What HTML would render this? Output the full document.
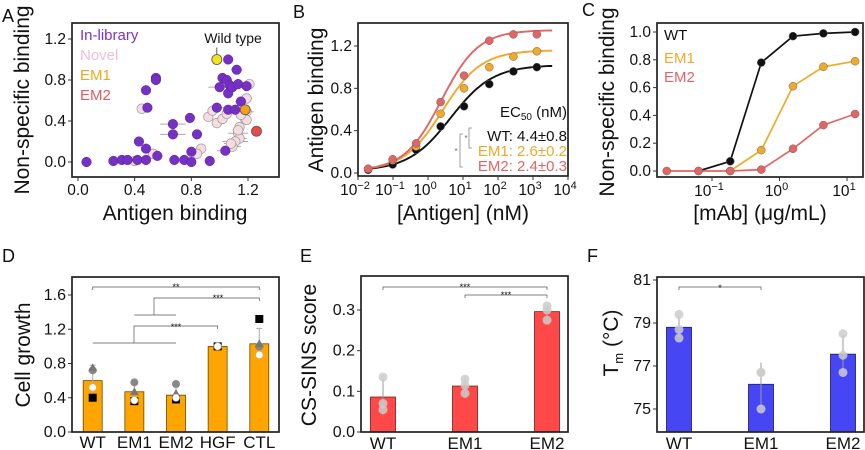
<!DOCTYPE html>
<html><head><meta charset="utf-8">
<style>
html,body{margin:0;padding:0;background:#fff;}
svg{display:block;font-family:"Liberation Sans","DejaVu Sans",sans-serif;}
</style></head>
<body>
<svg id="fig" width="865" height="450" viewBox="0 0 865 450"></svg>
<script>
// ---------- Panel A data ----------
const aInLibX=[0.06,0.25,0.31,0.35,0.42,0.43,0.48,0.48,0.49,0.48,0.55,0.55,0.56,0.67,0.67,0.68,0.75,0.79,0.80,0.80,0.84,0.93,0.98,1.0,1.02,1.06,1.06,1.04,1.05,1.07,1.06,1.09,1.12,1.13,1.15,1.19,1.11];
const aInLibY=[0.0,0.01,0.02,0.02,0.02,0.20,0.13,0.70,0.53,0.02,0.82,0.80,0.06,0.37,0.27,0.02,0.02,0.43,0.10,0.0,0.27,0.01,0.53,0.73,0.82,1.0,0.51,0.11,0.80,0.75,0.67,0.73,0.90,0.76,0.59,0.74,0.51];
const aInLibXErr=[0,0.02,0,0,0.02,0.03,0,0,0,0,0,0,0,0.09,0.09,0,0,0.03,0,0,0,0,0.05,0.08,0,0,0,0.06,0.04,0,0.03,0,0.04,0,0.04,0.03,0];
const aNovelX=[0.45,0.40,0.53,0.87,0.84,0.92,0.95,0.98,1.02,1.05,1.19,1.21,1.19,1.18,1.14,1.13,1.14,1.11,1.09,1.08,1.13,1.19,1.15];
const aNovelY=[0.52,0.01,0.08,0.13,0.08,0.44,0.50,0.38,0.42,0.47,0.62,0.76,0.49,0.42,0.34,0.28,0.23,0.20,0.15,0.18,0.31,0.41,0.46];
const aNovelXErr=[0.02,0.02,0.02,0,0,0.03,0.03,0,0,0.03,0.04,0.02,0.05,0.04,0.03,0.07,0.05,0.09,0.06,0.05,0.04,0.03,0.04];
const aSpecialNames=["Wild type","EM1","EM2"];
const aSpecialX=[0.98,1.18,1.26];
const aSpecialY=[1.0,0.51,0.3];
const aXTicks=[0.0,0.4,0.8,1.2];
const aYTicks=[0.0,0.4,0.8,1.2];
// ---------- Panel B data ----------
const bConcLog=[-1.71,-1.01,-0.34,0.36,1.03,1.75,2.44,3.11];
const bWT=[0.03,0.08,0.22,0.44,0.63,0.84,0.96,1.0];
const bEM1=[0.04,0.12,0.25,0.56,0.80,1.0,1.10,1.15];
const bEM2=[0.04,0.13,0.28,0.67,0.92,1.25,1.31,1.31];
const bFitTop=[1.02,1.16,1.35];
const bFitEC50=[4.4,2.6,2.4];
const bFitHill=[0.72,0.78,0.82];
const bXTickExp=[-2,-1,0,1,2,3,4];
const bYTicks=[0.0,0.4,0.8,1.2];
const bLegendText=["WT: 4.4±0.8","EM1: 2.6±0.2","EM2: 2.4±0.3"];
// ---------- Panel C data ----------
const cConcLog=[-1.67,-1.2,-0.73,-0.27,0.2,0.65,1.12];
const cWT=[null,0.0,0.07,0.78,0.97,0.99,1.0];
const cEM1=[null,null,0.0,0.15,0.61,0.75,0.79];
const cEM2=[0.0,0.0,0.0,0.01,0.16,0.33,0.41];
const cXTickExp=[-1,0,1];
const cYTicks=[0.0,0.2,0.4,0.6,0.8,1.0];
// ---------- Panel D data ----------
const dCats=["WT","EM1","EM2","HGF","CTL"];
const dVals=[0.60,0.47,0.43,1.0,1.03];
const dErr=[0.18,0.12,0.10,0.01,0.18];
const dTri=[0.75,0.47,0.45,1.0,1.03];
const dCirc=[0.72,0.58,0.56,1.0,1.0];
const dWhite=[0.52,0.37,0.40,1.0,0.9];
const dSquare=[0.40,0.36,0.38,1.0,1.32];
const dYTicks=[0.0,0.4,0.8,1.2,1.6];
// ---------- Panel E data ----------
const eCats=["WT","EM1","EM2"];
const eVals=[0.086,0.113,0.296];
const eErr=[0.045,0.02,0.015];
const ePts=[[0.135,0.07,0.055],[0.13,0.115,0.095],[0.31,0.275,0.30]];
const eYTicks=[0.0,0.1,0.2,0.3];
// ---------- Panel F data ----------
const fCats=["WT","EM1","EM2"];
const fVals=[78.8,76.15,77.55];
const fErr=[0.5,1.0,0.9];
const fPts=[[79.4,78.7,78.3],[76.7,76.7,75.0],[78.5,77.5,76.7]];
const fYTicks=[75,77,79,81];

const NS="http://www.w3.org/2000/svg";
const svg=document.getElementById('fig');
const TICK=15.5, TITLE=21;
function mk(tag,attrs,name,parent){
  const el=document.createElementNS(NS,tag);
  for(const k in attrs) el.setAttribute(k,attrs[k]);
  
  
  (parent||svg).appendChild(el);
  return el;
}
function txt(x,y,s,size,name,opts){
  opts=opts||{};
  const t=mk('text',{x:x,y:y,'font-size':size,fill:opts.fill||'#111','text-anchor':opts.anchor||'middle'},name,opts.parent);
  if(opts.rot) t.setAttribute('transform','rotate(-90 '+x+' '+y+')');
  t.textContent=s;
  return t;
}
function frame(x0,y0,x1,y1,name){
  mk('rect',{x:x0,y:y0,width:x1-x0,height:y1-y0,fill:'none',stroke:'#222','stroke-width':1.7},name);
}
function linear(d0,d1,r0,r1){return v=>r0+(v-d0)*(r1-r0)/(d1-d0);}

// ================= Panel A =================
(function(){
  const X=linear(0,1.2,78,248), Y=linear(0,1.2,162,39);
  txt(2,22,'A',18,'panel-label-a',{anchor:'start'});
  frame(72,23,279,177,'plot-frame-a');
  aXTicks.forEach(v=>{mk('line',{x1:X(v),x2:X(v),y1:177,y2:181,stroke:'#333'},'x-tick-a');txt(X(v),195,v.toFixed(1),TICK,'x-tick-label-a');});
  aYTicks.forEach(v=>{mk('line',{x1:68,x2:72,y1:Y(v),y2:Y(v),stroke:'#333'},'y-tick-a');txt(66,Y(v)+5,v.toFixed(1),TICK,'y-tick-label-a',{anchor:'end'});});
  txt(175,220,'Antigen binding',TITLE,'x-axis-title-a');
  txt(29,100,'Non-specific binding',TITLE,'y-axis-title-a',{rot:true});
  function errs(xs,ys,es){xs.forEach((x,i)=>{if(es[i]>0)mk('line',{x1:X(x-es[i]),x2:X(x+es[i]),y1:Y(ys[i]),y2:Y(ys[i]),stroke:'#aaa','stroke-width':1},'error-bar-a');});}
  errs(aInLibX,aInLibY,aInLibXErr);errs(aNovelX,aNovelY,aNovelXErr);
  aNovelX.forEach((x,i)=>mk('circle',{cx:X(x),cy:Y(aNovelY[i]),r:4.8,fill:'#f6dbe1',stroke:'#999','stroke-width':0.7},'novel-point'));
  aInLibX.forEach((x,i)=>mk('circle',{cx:X(x),cy:Y(aInLibY[i]),r:4.8,fill:'#7530c4',stroke:'#5a1e9a','stroke-width':0.5},'in-library-point'));
  const sc=['#f2e31a','#f5a01a','#ea4a45'];
  aSpecialX.forEach((x,i)=>mk('circle',{cx:X(x),cy:Y(aSpecialY[i]),r:5,fill:sc[i],stroke:'#555','stroke-width':0.8},'special-point-'+aSpecialNames[i].toLowerCase().replace(' ','-')));
  mk('line',{x1:X(aSpecialX[0]),y1:Y(aSpecialY[0])-5,x2:X(aSpecialX[0]),y2:Y(aSpecialY[0])-12,stroke:'#333','stroke-width':0.8},'wild-type-pointer');
  txt(233,43,'Wild type',14,'wild-type-label');
  txt(80,40,'In-library',15,'legend-in-library',{anchor:'start',fill:'#7a35c8'});
  txt(80,60,'Novel',15,'legend-novel',{anchor:'start',fill:'#f2bcd8'});
  txt(80,80,'EM1',15,'legend-em1',{anchor:'start',fill:'#f2a817'});
  txt(80,100,'EM2',15,'legend-em2',{anchor:'start',fill:'#e55a5a'});
})();

// ================= Panel B =================
(function(){
  const X=linear(-2,4,358,568), Y=linear(0,1.2,173,46);
  txt(293,18,'B',18,'panel-label-b',{anchor:'start'});
  frame(358,23,568,176,'plot-frame-b');
  bXTickExp.forEach(e=>{
    mk('line',{x1:X(e),x2:X(e),y1:176,y2:180,stroke:'#333'},'x-tick-b');
    const t=txt(X(e)-3,195,'10',TICK,'x-tick-label-b');
    const s=mk('tspan',{dy:-6,'font-size':11},'x-tick-exponent-b',t);s.textContent=String(e).replace('-','−');
  });
  bYTicks.forEach(v=>{mk('line',{x1:354,x2:358,y1:Y(v),y2:Y(v),stroke:'#333'},'y-tick-b');txt(352,Y(v)+5,v.toFixed(1),TICK,'y-tick-label-b',{anchor:'end'});});
  txt(463,220,'[Antigen] (nM)',TITLE,'x-axis-title-b');
  txt(323,100,'Antigen binding',TITLE,'y-axis-title-b',{rot:true});
  const cols=['#111','#f0a92a','#e36464'], series=[bWT,bEM1,bEM2], names=['wt','em1','em2'];
  series.forEach((s,k)=>{
    let d='';
    for(let lx=-1.8;lx<=3.55;lx+=0.05){
      const c=Math.pow(10,lx);
      const v=0.02+(bFitTop[k]-0.02)/(1+Math.pow(bFitEC50[k]/c,bFitHill[k]));
      d+=(d?'L':'M')+X(lx).toFixed(1)+' '+Y(v).toFixed(1);
    }
    mk('path',{d:d,fill:'none',stroke:cols[k],'stroke-width':1.9},'fit-curve-'+names[k]);
  });
  series.forEach((s,k)=>s.forEach((v,i)=>mk('circle',{cx:X(bConcLog[i]),cy:Y(v),r:4,fill:cols[k],stroke:'#666','stroke-width':0.5},'point-'+names[k])));
  const t=txt(567,117,'EC',15,'ec50-legend-title',{anchor:'end'});
  const sub=mk('tspan',{dy:3,'font-size':10},'ec50-subscript',t);sub.textContent='50';
  const rest=mk('tspan',{dy:-3},'ec50-unit',t);rest.textContent=' (nM)';
  const ly=[141,156,171];
  bLegendText.forEach((s,k)=>txt(567,ly[k],s,15,'ec50-legend-'+names[k],{anchor:'end',fill:cols[k]}));
  mk('path',{d:'M472 128 H469 V148 H472',fill:'none',stroke:'#888','stroke-width':0.8},'sig-bracket-wt-em1');
  txt(466,141,'*',8,'sig-star-wt-em1',{fill:'#666'});
  mk('path',{d:'M463 134 H460 V167 H463',fill:'none',stroke:'#888','stroke-width':0.8},'sig-bracket-wt-em2');
  txt(456,154,'*',8,'sig-star-wt-em2',{fill:'#666'});
})();

// ================= Panel C =================
(function(){
  const X=linear(-1,1,712,847), Y=linear(0,1,171,32);
  txt(582,16,'C',18,'panel-label-c',{anchor:'start'});
  frame(657,23,863,177,'plot-frame-c');
  cXTickExp.forEach(e=>{
    mk('line',{x1:X(e),x2:X(e),y1:177,y2:181,stroke:'#333'},'x-tick-c');
    const t=txt(X(e)-3,196,'10',TICK,'x-tick-label-c');
    const s=mk('tspan',{dy:-6,'font-size':11},'x-tick-exponent-c',t);s.textContent=String(e).replace('-','−');
  });
  cYTicks.forEach(v=>{mk('line',{x1:653,x2:657,y1:Y(v),y2:Y(v),stroke:'#333'},'y-tick-c');txt(651,Y(v)+5,v.toFixed(1),TICK,'y-tick-label-c',{anchor:'end'});});
  txt(760,220,'[mAb] (μg/mL)',TITLE,'x-axis-title-c');
  txt(614,102,'Non-specific binding',TITLE,'y-axis-title-c',{rot:true});
  const cols=['#111','#f0a92a','#e36464'], series=[cWT,cEM1,cEM2], names=['wt','em1','em2'];
  series.forEach((s,k)=>{
    let d='';
    s.forEach((v,i)=>{if(v===null)return;d+=(d?'L':'M')+X(cConcLog[i]).toFixed(1)+' '+Y(v).toFixed(1);});
    mk('path',{d:d,fill:'none',stroke:cols[k],'stroke-width':1.7},'line-'+names[k]);
  });
  series.forEach((s,k)=>s.forEach((v,i)=>{if(v===null)return;mk('circle',{cx:X(cConcLog[i]),cy:Y(v),r:4,fill:cols[k],stroke:'#666','stroke-width':0.5},'point-'+names[k]);}));
  txt(664,40,'WT',15,'legend-wt-c',{anchor:'start',fill:'#111'});
  txt(664,63,'EM1',15,'legend-em1-c',{anchor:'start',fill:'#f0a92a'});
  txt(664,82,'EM2',15,'legend-em2-c',{anchor:'start',fill:'#e36464'});
})();

// ================= Panel D =================
(function(){
  const Y=linear(0,1.6,432,295), bw=19;
  const X=i=>92.7+i*41.65;
  txt(2,262,'D',18,'panel-label-d',{anchor:'start'});
  dYTicks.forEach(v=>{mk('line',{x1:68,x2:72,y1:Y(v),y2:Y(v),stroke:'#333'},'y-tick-d');txt(66,Y(v)+5,v.toFixed(1),16,'y-tick-label-d',{anchor:'end'});});
  txt(30,355,'Cell growth',TITLE,'y-axis-title-d',{rot:true});
  dVals.forEach((v,i)=>{
    mk('rect',{x:X(i)-bw/2,y:Y(v),width:bw,height:432-Y(v),fill:'#ffa500',stroke:'#6b4a00','stroke-width':0.8},'bar-'+dCats[i].toLowerCase());
    mk('line',{x1:X(i),x2:X(i),y1:Y(v-dErr[i]),y2:Y(v+dErr[i]),stroke:'#aaa'},'error-bar-d');
    mk('line',{x1:X(i)-3,x2:X(i)+3,y1:Y(v+dErr[i]),y2:Y(v+dErr[i]),stroke:'#aaa'},'error-cap-d');
    mk('circle',{cx:X(i),cy:Y(dCirc[i]),r:4,fill:'#888'},'replicate-circle');
    const ty=Y(dTri[i]);
    mk('polygon',{points:(X(i)-4.5)+','+(ty+3.5)+' '+(X(i)+4.5)+','+(ty+3.5)+' '+X(i)+','+(ty-4.5),fill:'#777'},'replicate-triangle');
    mk('rect',{x:X(i)-4,y:Y(dSquare[i])-4,width:8,height:8,fill:'#000'},'replicate-square');
    mk('circle',{cx:X(i),cy:Y(dWhite[i]),r:3.6,fill:'#fff',stroke:'#bbb','stroke-width':0.6},'replicate-white');
    txt(X(i),448,dCats[i],17,'x-tick-label-d');
  });
  frame(72,277,279,432,'plot-frame-d');
  const g='#555';
  mk('path',{d:'M'+X(0)+' 290 V287 H'+X(4)+' V290',fill:'none',stroke:g,'stroke-width':0.7},'sig-bracket-wt-ctl');
  txt((X(0)+X(4))/2,290,'**',9,'sig-stars-wt-ctl');
  mk('path',{d:'M154 315 V298 H'+X(4)+' V301',fill:'none',stroke:g,'stroke-width':0.7},'sig-bracket-em-ctl');
  txt(218,301,'***',9,'sig-stars-em-ctl');
  mk('line',{x1:X(1),x2:X(2),y1:315,y2:315,stroke:g,'stroke-width':0.8},'group-line-em');
  mk('path',{d:'M134 343 V326 H'+X(3)+' V329',fill:'none',stroke:g,'stroke-width':0.7},'sig-bracket-group-hgf');
  txt(176,330,'***',9,'sig-stars-group-hgf');
  mk('line',{x1:X(0),x2:X(2),y1:343,y2:343,stroke:g,'stroke-width':0.8},'group-line-all');
})();

// ================= Panel E =================
(function(){
  const Y=linear(0,0.3,432,310), bw=25;
  const X=i=>383+i*82;
  txt(300,262,'E',18,'panel-label-e',{anchor:'start'});
  eYTicks.forEach(v=>{mk('line',{x1:357,x2:361,y1:Y(v),y2:Y(v),stroke:'#333'},'y-tick-e');txt(355,Y(v)+5,v.toFixed(1),16,'y-tick-label-e',{anchor:'end'});});
  txt(316,355,'CS-SINS score',TITLE,'y-axis-title-e',{rot:true});
  eVals.forEach((v,i)=>{
    mk('rect',{x:X(i)-bw/2,y:Y(v),width:bw,height:432-Y(v),fill:'#ff4848',stroke:'#7a1a1a','stroke-width':0.8},'bar-'+eCats[i].toLowerCase());
    mk('line',{x1:X(i),x2:X(i),y1:Y(v-eErr[i]),y2:Y(v+eErr[i]),stroke:'#999'},'error-bar-e');
    ePts[i].forEach(p=>mk('circle',{cx:X(i),cy:Y(p),r:4.5,fill:'#ccc','fill-opacity':0.85},'replicate-point-e'));
    txt(X(i),449,eCats[i],17,'x-tick-label-e');
  });
  frame(361,276,568,432,'plot-frame-e');
  mk('path',{d:'M'+X(0)+' 290 V287 H'+X(2)+' V290',fill:'none',stroke:'#555','stroke-width':0.7},'sig-bracket-wt-em2');
  txt((X(0)+X(2))/2,290,'***',9,'sig-stars-wt-em2');
  mk('path',{d:'M'+X(1)+' 298 V295 H'+X(2)+' V298',fill:'none',stroke:'#555','stroke-width':0.7},'sig-bracket-em1-em2');
  txt((X(1)+X(2))/2,298,'***',9,'sig-stars-em1-em2');
})();

// ================= Panel F =================
(function(){
  const Y=linear(75,79,409,323), bw=25;
  const X=i=>679+i*82;
  txt(587,262,'F',18,'panel-label-f',{anchor:'start'});
  fYTicks.forEach(v=>{mk('line',{x1:653,x2:657,y1:Y(v),y2:Y(v),stroke:'#333'},'y-tick-f');txt(651,Y(v)+5,String(v),16,'y-tick-label-f',{anchor:'end'});});
  const t=txt(618,343,'T',TITLE,'y-axis-title-f',{rot:true});
  const s1=mk('tspan',{dy:5,'font-size':13},'y-axis-title-subscript-f',t);s1.textContent='m';
  const s2=mk('tspan',{dy:-5},'y-axis-title-unit-f',t);s2.textContent=' (°C)';
  fVals.forEach((v,i)=>{
    mk('rect',{x:X(i)-bw/2,y:Y(v),width:bw,height:432-Y(v),fill:'#4646f5',stroke:'#1a1a6a','stroke-width':0.8},'bar-'+fCats[i].toLowerCase());
    mk('line',{x1:X(i),x2:X(i),y1:Y(v-fErr[i]),y2:Y(v+fErr[i]),stroke:'#999'},'error-bar-f');
    fPts[i].forEach(p=>mk('circle',{cx:X(i),cy:Y(p),r:4.5,fill:'#ccc','fill-opacity':0.85},'replicate-point-f'));
    txt(X(i),449,fCats[i],17,'x-tick-label-f');
  });
  frame(657,277,864,432,'plot-frame-f');
  mk('path',{d:'M'+X(0)+' 290 V287 H'+X(1)+' V290',fill:'none',stroke:'#555','stroke-width':0.7},'sig-bracket-wt-em1-f');
  txt((X(0)+X(1))/2,291,'*',9,'sig-star-wt-em1-f');
})();
</script>
</body></html>
